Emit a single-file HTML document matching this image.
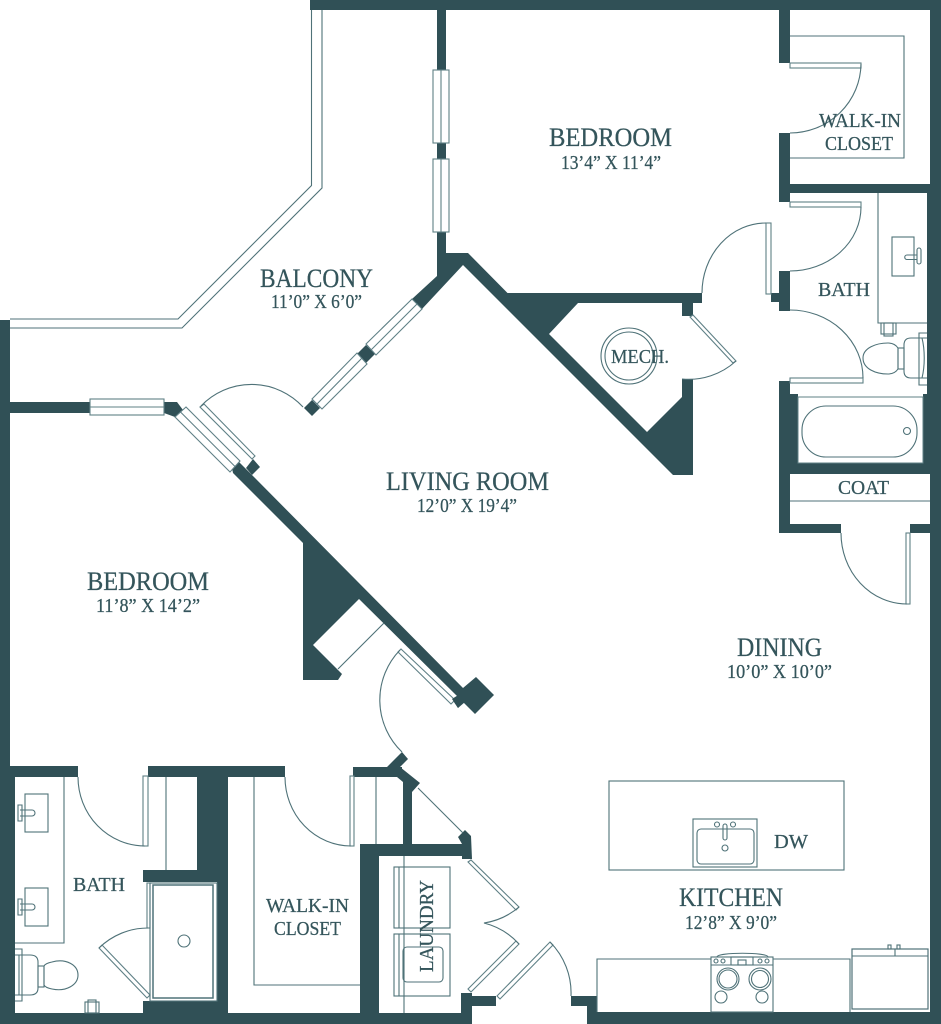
<!DOCTYPE html>
<html><head><meta charset="utf-8"><style>
html,body{margin:0;padding:0;background:#fff;width:941px;height:1024px;overflow:hidden}
svg{display:block}
text{font-family:"Liberation Serif",serif;fill:#34555b;text-anchor:start;stroke:#34555b;stroke-width:.25}
.t{font-size:26.5px}.s{font-size:19.5px}.m{font-size:20px}
.w{fill:#305056;stroke:none}
.l{fill:none;stroke:#4f7278;stroke-width:1.1}
.p{fill:#fff;stroke:#5f8086;stroke-width:1.1}
</style></head><body>
<svg width="941" height="1024" viewBox="0 0 941 1024" xmlns="http://www.w3.org/2000/svg">
<!-- balcony rail -->
<path class="l" d="M10 319H178L311.500 185.500V10M10 328H182L322 188V0"/>
<!-- walls -->
<g class="w">
<rect x="310" y="0" width="631" height="10"/>
<rect x="930" y="0" width="11" height="193"/>
<rect x="927" y="193" width="14" height="201"/>
<rect x="923" y="394" width="18" height="69"/>
<rect x="930" y="463" width="11" height="561"/>
<rect x="0" y="320" width="10" height="450"/>
<rect x="0" y="766" width="15" height="258"/>
<rect x="0" y="1013" width="472" height="11"/>
<rect x="587" y="1012" width="354" height="12"/>
<rect x="571" y="996" width="26" height="10"/>
<rect x="587" y="996" width="10" height="20"/>
<rect x="461" y="993" width="11" height="31"/>
<rect x="472" y="996" width="24" height="10"/>
<!-- top bedroom/closet wall -->
<rect x="779" y="10" width="11" height="53"/>
<rect x="779" y="133" width="11" height="69"/>
<rect x="780" y="184" width="150" height="9"/>
<rect x="779" y="271" width="11" height="40"/>
<rect x="771" y="293" width="19" height="9"/>
<rect x="779" y="381" width="11" height="152"/>
<rect x="790" y="394" width="8" height="70"/>
<rect x="780" y="463" width="150" height="11"/>
<rect x="780" y="524" width="61" height="9"/>
<rect x="910" y="524" width="20" height="9"/>
<!-- left window wall -->
<rect x="437" y="10" width="9" height="60"/>
<rect x="437" y="143" width="9" height="16"/>
<rect x="437" y="232" width="9" height="48"/>
<polygon points="437,253 468,253 507.500,293 702,293 702,303 693,303 693,316 682,316 682,303 578,303 549,334 647,432 682,397 682,379 693,379 693,475 673,475 463,265 422,309 412,299 437,276"/>
<!-- left wall lower -->
<polygon points="10,402 90,402 90,413 10,413"/>
<polygon points="164,402 177,402 183,410 175,417 164,413"/>
<!-- main diagonal -->
<polygon points="232,468 239,462 252,475 463,688 476,677 494,695 475,714 463,702 458,708 452,699 457,696 359,599 313,645 342,674 338,680 303,680 303,543 233,473"/>
<polygon points="246,468 253,459 260,467 252,475"/>
<polygon points="366,345 375,354 366,363 357,354"/>
<polygon points="312,400 320,408 312,416 304,408"/>
<!-- bottom left rooms -->
<rect x="10" y="766" width="68" height="11"/>
<rect x="148" y="766" width="137" height="11"/>
<rect x="197" y="777" width="31" height="93"/>
<rect x="143" y="870" width="85" height="12"/>
<rect x="217" y="882" width="11" height="131"/>
<rect x="143" y="1001" width="85" height="12"/>
<rect x="353" y="767" width="49" height="10"/>
<polygon points="387,767 402,752 408,759 400,767 420,783 412,792 412,844 403,844 403,782 397,777 388,777"/>
<rect x="360" y="844" width="19" height="170"/>
<rect x="360" y="844" width="102" height="12"/>
<polygon points="458,837 465,830 471,836 472,859 462,859 462,844"/>
</g>
<!-- windows -->
<g class="p">
<rect x="433" y="70" width="16" height="73"/><path d="M441 70V143"/>
<rect x="433" y="159" width="16" height="73"/><path d="M441 159V232"/>
<rect x="90" y="399" width="74" height="16"/><path d="M90 407H164"/>
<polygon points="412,299 422,309 376,355 366,344"/><path d="M417 304L371 350"/>
<polygon points="357,353 367,364 322,409 312,399"/><path d="M362 358L317 404"/>
<polygon points="186,407 175,417 230,472 240,461"/><path d="M180.500 412L235 466.500"/>
<polygon points="200,407 204,404 255,456 252,459"/>
</g>
<!-- doors -->
<g class="p">
<rect x="790" y="63" width="71" height="5"/>
<rect x="790" y="202" width="71" height="5"/>
<rect x="766" y="223" width="5" height="71"/>
<rect x="790" y="378" width="73" height="5"/>
<rect x="906" y="533" width="4" height="71"/>
<rect x="143" y="776" width="5" height="70"/>
<rect x="350" y="776" width="4" height="70"/>
<rect x="147" y="883" width="3" height="45"/>
<polygon points="690,317 693,315 736,361 733,363"/>
<polygon points="401,649 398,652 451,704 455,700"/>
<polygon points="99,948 102,945 150,995 147,998"/>
<polygon points="471,860 468,862 516,910 519,907"/>
<polygon points="519,944 516,941 468,989 471,992"/>
<polygon points="497,996 500,999 553,945 550,942"/>
</g>
<polygon class="w" points="452,699 458,708 465,702 460,694"/>
<path class="l" d="M790 133A71 70 0 0 0 861 64M790 271A71 64 0 0 0 861 207M766 223A64 70 0 0 0 702 293M790 310A73 68 0 0 1 863 378M841 533A66 71 0 0 0 907 604M78 777A67 69 0 0 0 145 846M285 777A66 69 0 0 0 351 846M148 928A70 70 0 0 0 99 948M736 361A70 70 0 0 1 682 379M303 407A70 70 0 0 0 201 406M400 650A72 72 0 0 0 402 752M519 907A70 70 0 0 1 484 923A70 70 0 0 1 519 944M550 942A72 72 0 0 1 571 996"/>
<path class="l" d="M384 623L338 669M418 788L463 833"/>
<!-- closets, counters -->
<path class="l" d="M790 36H904V158H790M878 193V323H927M790 501H930M64 777V943H15M166 777V870M254 777V985H360M376 777V844"/>
<!-- mech -->
<circle class="l" cx="629" cy="356" r="28"/><circle class="l" cx="629" cy="356" r="24"/>
<!-- upper bath sink -->
<rect class="l" x="892" y="237" width="22" height="39"/>
<path class="l" d="M917 255H907a2 2 0 0 0 0 4.500H917"/>
<rect class="l" x="917" y="248" width="4" height="16" rx="2"/>
<rect class="l" x="881" y="323" width="15" height="11"/><rect class="l" x="884" y="323" width="9" height="13"/>
<!-- upper toilet -->
<path class="l" d="M888 343C876 343 863 348 863 358C863 369 876 374 888 374C893 374 896 372 898 369V348C896 345 893 343 888 343Z"/>
<rect class="l" x="898" y="348" width="6" height="21"/>
<path class="l" d="M927 338H911C906 338 904 341 904 345V371C904 375 906 378 911 378H927"/>
<path class="l" d="M927 333H919V385H927M922 338C925 350 925 366 922 378"/>
<!-- tub -->
<rect class="l" x="802" y="406" width="115" height="51" rx="24"/>
<circle class="l" cx="907" cy="431" r="3.500"/>
<rect x="798" y="397" width="125" height="66" fill="none" stroke="#5f8086"/>
<!-- left bath -->
<rect class="l" x="25" y="794" width="23" height="38"/>
<rect class="l" x="25" y="888" width="23" height="38"/>
<path class="l" d="M20 810H32a3 3 0 0 1 0 6H20M18 805h4v16h-4zM20 904H32a3 3 0 0 1 0 6H20M18 899h4v16h-4z"/>
<rect class="l" x="150" y="883" width="67" height="118"/>
<rect x="153" y="885" width="60" height="113" fill="none" stroke="#4f7278" stroke-width="1.500"/>
<circle class="l" cx="184" cy="941" r="6"/>
<path class="l" d="M52 962C66 958 78 965 78 975C78 985 66 992 52 989C47 988 45 987 44 985V966C45 964 47 963 52 962Z"/>
<rect class="l" x="38" y="966" width="6" height="21"/>
<path class="l" d="M15 955H30C36 955 38 958 38 962V988C38 992 36 995 30 995H15"/>
<path class="l" d="M15 949H22V1001H15M19 955V995"/>
<rect class="l" x="85" y="1002" width="14" height="11"/><rect class="l" x="88" y="1000" width="8" height="13"/>
<!-- laundry -->
<rect class="l" x="394" y="867" width="56" height="61"/>
<rect class="l" x="394" y="934" width="56" height="62"/>
<path class="l" d="M399 867V928M399 934V996M404 856V1013"/>
<rect class="l" x="403" y="947" width="40" height="35" rx="4"/>
<!-- kitchen -->
<rect class="l" x="609" y="781" width="235" height="89"/>
<rect class="l" x="693" y="819" width="64" height="48"/>
<rect class="l" x="697" y="829" width="57" height="35" rx="4"/>
<circle class="l" cx="717" cy="824.500" r="2.500"/><circle class="l" cx="733" cy="824.500" r="2.500"/>
<rect class="l" x="723" y="824" width="4" height="16" rx="2"/><circle class="l" cx="725" cy="848" r="3"/>
<path class="l" d="M597 1012V959H711M773 959H850V1012"/>
<rect class="l" x="711" y="957" width="62" height="55"/>
<path class="l" d="M711 965H773M717 957C717 952 768 952 768 957"/>
<rect class="l" x="731" y="957" width="22" height="8"/><rect class="l" x="738" y="960" width="8" height="5"/>
<circle class="l" cx="716" cy="961" r="2"/><circle class="l" cx="723" cy="961" r="2"/><circle class="l" cx="760" cy="961" r="2"/><circle class="l" cx="767" cy="961" r="2"/>
<circle class="l" cx="728" cy="979" r="11"/><circle class="l" cx="728" cy="979" r="9"/>
<circle class="l" cx="760" cy="979" r="11"/><circle class="l" cx="760" cy="979" r="8.500"/>
<circle class="l" cx="721" cy="997" r="6"/><circle class="l" cx="762" cy="997" r="6"/>
<rect x="852" y="949" width="76" height="60" fill="none" stroke="#4f7278" stroke-width="1.200"/>
<path class="l" d="M852 956H928M895 949V956"/>
<rect class="l" x="888" y="945" width="3" height="4"/><rect class="l" x="897" y="945" width="3" height="4"/>
<!-- labels -->
<text class="t" x="549" y="146" textLength="123" lengthAdjust="spacingAndGlyphs">BEDROOM</text>
<text class="s" x="561" y="169" textLength="100" lengthAdjust="spacingAndGlyphs">13’4” X 11’4”</text>
<text class="t" x="260" y="287" textLength="113" lengthAdjust="spacingAndGlyphs">BALCONY</text>
<text class="s" x="271" y="308" textLength="91" lengthAdjust="spacingAndGlyphs">11’0” X 6’0”</text>
<text class="t" x="386" y="490" textLength="163" lengthAdjust="spacingAndGlyphs">LIVING ROOM</text>
<text class="s" x="417" y="512" textLength="100" lengthAdjust="spacingAndGlyphs">12’0” X 19’4”</text>
<text class="t" x="87" y="590" textLength="122" lengthAdjust="spacingAndGlyphs">BEDROOM</text>
<text class="s" x="96" y="612" textLength="104" lengthAdjust="spacingAndGlyphs">11’8” X 14’2”</text>
<text class="t" x="737" y="656" textLength="85" lengthAdjust="spacingAndGlyphs">DINING</text>
<text class="s" x="727" y="678" textLength="105" lengthAdjust="spacingAndGlyphs">10’0” X 10’0”</text>
<text class="t" x="679" y="906" textLength="104" lengthAdjust="spacingAndGlyphs">KITCHEN</text>
<text class="s" x="685" y="929" textLength="92" lengthAdjust="spacingAndGlyphs">12’8” X 9’0”</text>
<text class="m" x="819" y="127" textLength="82" lengthAdjust="spacingAndGlyphs">WALK-IN</text>
<text class="m" x="825" y="150" textLength="68" lengthAdjust="spacingAndGlyphs">CLOSET</text>
<text class="m" x="818" y="296" textLength="52" lengthAdjust="spacingAndGlyphs">BATH</text>
<text class="m" x="838" y="494" textLength="51" lengthAdjust="spacingAndGlyphs">COAT</text>
<text class="m" x="611" y="363" textLength="58" lengthAdjust="spacingAndGlyphs">MECH.</text>
<text class="m" x="774" y="848" textLength="34" lengthAdjust="spacingAndGlyphs">DW</text>
<text class="m" x="73" y="891" textLength="52" lengthAdjust="spacingAndGlyphs">BATH</text>
<text class="m" x="266" y="912" textLength="83" lengthAdjust="spacingAndGlyphs">WALK-IN</text>
<text class="m" x="274" y="935" textLength="67" lengthAdjust="spacingAndGlyphs">CLOSET</text>
<text class="m" transform="translate(433 972) rotate(-90)" x="0" y="0" textLength="92" lengthAdjust="spacingAndGlyphs">LAUNDRY</text>
</svg>
</body></html>
